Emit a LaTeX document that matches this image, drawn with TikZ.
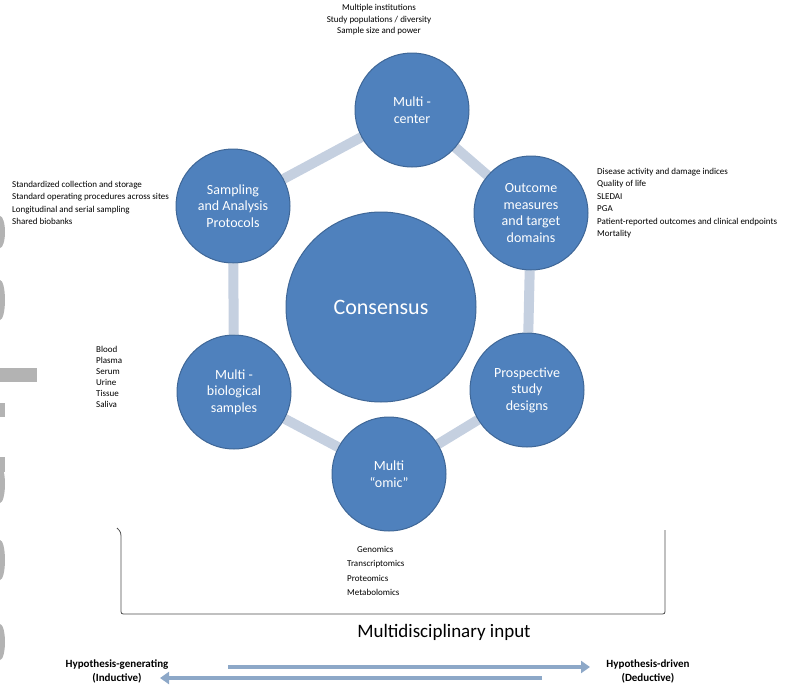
\documentclass[tikz,border=0pt]{standalone}
\usepackage{fontspec}
\setmainfont{Carlito}
\usetikzlibrary{arrows.meta,backgrounds}

\definecolor{hubblue}{HTML}{4F81BD}
\definecolor{ringgrey}{HTML}{C5D0E0}
\definecolor{flowblue}{HTML}{8DA8C8}
\definecolor{edgegrey}{HTML}{B3B3B3}

\tikzset{
  hub/.style={circle, fill=hubblue, draw=hubblue!80!black, line width=1pt,
    minimum size=114pt, inner sep=0pt, align=center, text=white,
    font=\fontsize{14}{16.5}\selectfont},
  ringlink/.style={line width=10pt, ringgrey},
  note/.style={align=left, inner sep=0pt, font=\fontsize{9}{12.5}\selectfont},
  flow/.style={line width=4pt, flowblue, -{Triangle[length=9pt,width=12pt]}},
  bracket/.style={draw=black!70, line width=0.8pt}
}

\begin{document}
\begin{tikzpicture}[x=1pt,y=-1pt]
\useasboundingbox (0,0) rectangle (787,696);

% -------------------------------------------------
% Circles
% -------------------------------------------------
\node[hub, minimum size=190pt, font=\fontsize{22}{24}\selectfont] (cons) at (381,307) {Consensus};
\node[hub] (center)  at (412,110) {Multi -\\center};
\node[hub] (outcome) at (531,213) {Outcome\\measures\\and target\\domains};
\node[hub] (prosp)   at (527,390) {Prospective\\study\\designs};
\node[hub] (omic)    at (389,474) {Multi\\``omic''};
\node[hub] (bio)     at (234,392) {Multi -\\biological\\samples};
\node[hub] (sampl)   at (233,206) {Sampling\\and Analysis\\Protocols};

% -------------------------------------------------
% Ring (behind the circles)
% -------------------------------------------------
\begin{scope}[on background layer]
\draw[ringlink] (center) -- (outcome);
\draw[ringlink] (outcome) -- (prosp);
\draw[ringlink] (prosp) -- (omic);
\draw[ringlink] (omic) -- (bio);
\draw[ringlink] (bio) -- (sampl);
\draw[ringlink] (sampl) -- (center);
\end{scope}

% -------------------------------------------------
% Notes
% -------------------------------------------------
\node[note, align=center, font=\fontsize{9}{11.5}\selectfont] (ncenter) at (379,20)
  {Multiple institutions\\Study populations / diversity\\Sample size and power};
\node[note, anchor=north west] (noutcome) at (597,168)
  {Disease activity and damage indices\\Quality of life\\SLEDAI\\PGA\\Patient-reported outcomes and clinical endpoints\\Mortality};
\node[note, anchor=north west] (nsampl) at (12,181)
  {Standardized collection and storage\\Standard operating procedures across sites\\Longitudinal and serial sampling\\Shared biobanks};
\node[note, anchor=north west, font=\fontsize{9}{11}\selectfont] (nbio) at (96,346)
  {Blood\\Plasma\\Serum\\Urine\\Tissue\\Saliva};
\node[note, anchor=north west, font=\fontsize{9}{14.5}\selectfont] (nomic) at (347,546)
  {\hspace*{10pt}Genomics\\Transcriptomics\\Proteomics\\Metabolomics};

% -------------------------------------------------
% Bracket and label
% -------------------------------------------------
\draw[bracket] (117,528) .. controls (121,532) .. (121,540) -- (121,609)
  .. controls (121,614) .. (126,614) -- (660,614)
  .. controls (665,614) .. (665,609) -- (665,530);
\node[font=\fontsize{19}{21}\selectfont] (input) at (444,632) {Multidisciplinary input};

% -------------------------------------------------
% Hypothesis arrows
% -------------------------------------------------
\node[align=center, font=\bfseries\fontsize{11}{14}\selectfont] (gen) at (117,671)
  {Hypothesis-generating\\(Inductive)};
\node[align=center, font=\bfseries\fontsize{11}{14}\selectfont] (drv) at (648,671)
  {Hypothesis-driven\\(Deductive)};
\coordinate (up1) at (228,667);
\coordinate (up2) at (590,667);
\coordinate (lo1) at (542,678);
\coordinate (lo2) at (160,678);
\draw[flow] (up1) -- (up2);
\draw[flow] (lo1) -- (lo2);

% -------------------------------------------------
% Cut-off shapes on the left edge
% -------------------------------------------------
\fill[edgegrey] (0,248) arc (-90:90:5 and -16) -- cycle;
\fill[edgegrey] (0,320) arc (-90:90:5 and -20) -- cycle;
\fill[edgegrey] (0,368) rectangle (37,382);
\fill[edgegrey] (0,403) rectangle (5,417);
\fill[edgegrey] (0,457) rectangle (5,472);
\fill[edgegrey] (0,503) arc (-90:90:5 and -19) -- cycle;
\fill[edgegrey] (0,580) arc (-90:90:5 and -20) -- cycle;
\fill[edgegrey] (0,660) arc (-90:90:5 and -18) -- cycle;

\end{tikzpicture}
\end{document}
